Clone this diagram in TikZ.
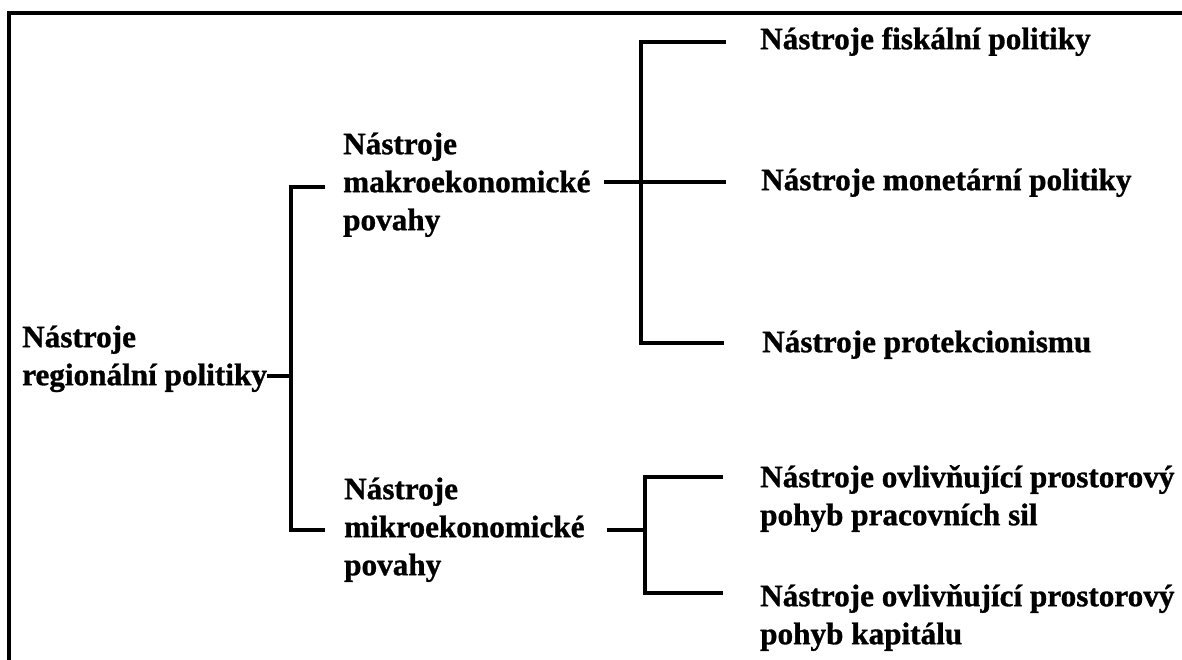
\documentclass[tikz,border=0pt]{standalone}
\usepackage{fontspec}
\setmainfont{Liberation Serif}[BoldFeatures={FakeBold=1}]
\usetikzlibrary{calc}
\newcommand\lstrut{\rule[-11.8pt]{0pt}{38pt}}
\tikzset{
  lbl/.style={anchor=west, inner sep=0pt, align=left,
    font=\fontsize{31.2}{38}\selectfont\bfseries},
  conn/.style={line width=3.6pt, black},
  frame/.style={line width=3.2pt, black}
}
\begin{document}
\begin{tikzpicture}[x=1pt,y=-1pt]
\useasboundingbox[fill=white] (0,0) rectangle (1182,659);
\draw[frame] (9,680) -- (9,13) -- (1200,13);

% nodes
\node[lbl] (reg)   at (22,359)  {\lstrut Nástroje\\\lstrut regionální politiky};
\node[lbl] (makro) at (343,185) {\lstrut Nástroje\\\lstrut makroekonomické\\\lstrut povahy};
\node[lbl] (mikro) at (344,530) {\lstrut Nástroje\\\lstrut mikroekonomické\\\lstrut povahy};
\node[lbl] (fisk)  at (760,42)  {\lstrut Nástroje fiskální politiky};
\node[lbl] (mone)  at (761,183) {\lstrut Nástroje monetární politiky};
\node[lbl] (prot)  at (762,345) {\lstrut Nástroje protekcionismu};
\node[lbl] (prac)  at (760,499) {\lstrut Nástroje ovlivňující prostorový\\\lstrut pohyb pracovních sil};
\node[lbl] (kap)   at (760,618) {\lstrut Nástroje ovlivňující prostorový\\\lstrut pohyb kapitálu};

% junctions and bracket ends
\coordinate (jr) at (291,376);
\coordinate (jrT) at (325,187);
\coordinate (jrB) at (325,530);
\coordinate (jm) at (641,182);
\coordinate (jmT) at (726,42);
\coordinate (jmM) at (726,182);
\coordinate (jmB) at (724,343);
\coordinate (jk) at (645,530);
\coordinate (jkT) at (723,477);
\coordinate (jkB) at (723,593);

% connectors
\draw[conn] (reg.east |- jr) -- (jr);
\draw[conn] (jrT) -| (jr) |- (jrB);
\draw[conn] ($(makro.east |- jm)+(13,0)$) -- (jm);
\draw[conn] (jmT) -| (jm) |- (jmB);
\draw[conn] (jm) -- (jmM);
\draw[conn] ($(mikro.east |- jk)+(22,0)$) -- (jk);
\draw[conn] (jkT) -| (jk) |- (jkB);
\end{tikzpicture}
\end{document}
